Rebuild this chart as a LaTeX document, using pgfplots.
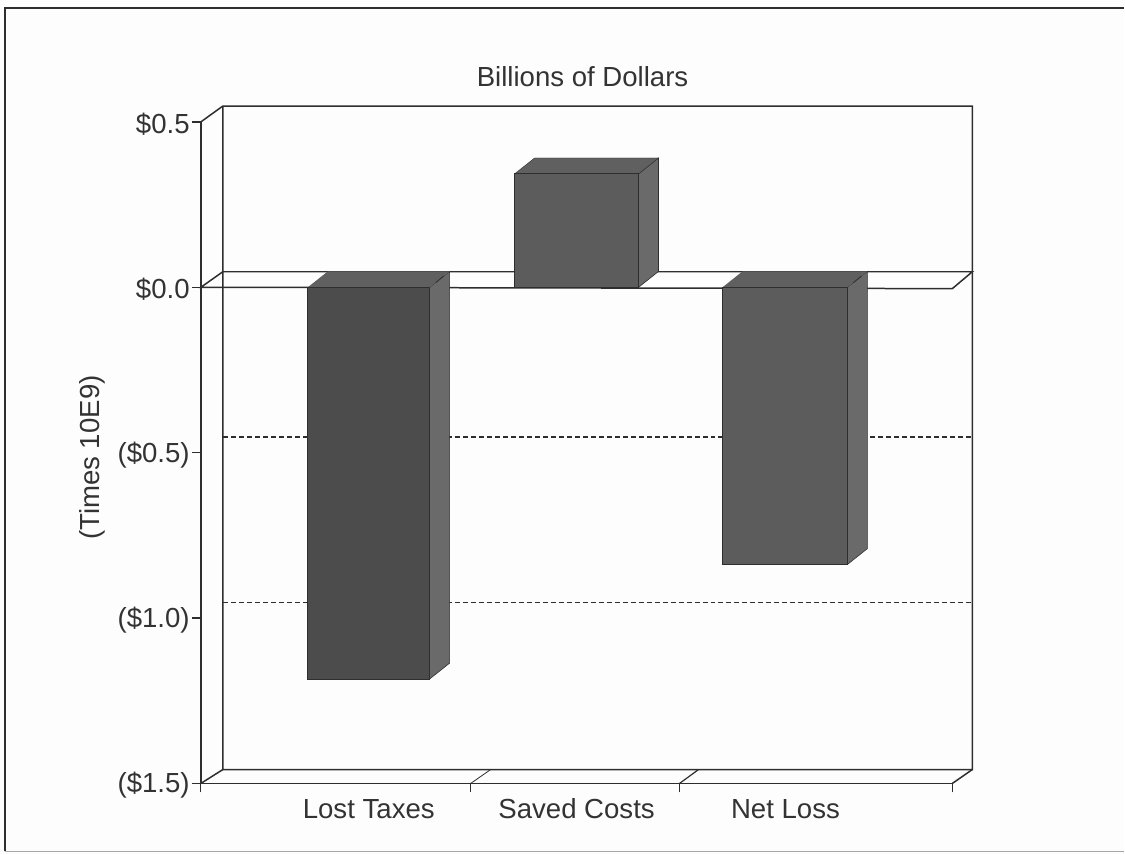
\documentclass[border=0pt]{standalone}
\usepackage{fontspec}
\setmainfont{Liberation Sans}
\usepackage{pgfplots}
\pgfplotsset{compat=1.18}
\definecolor{paper}{HTML}{FDFDFD}
\definecolor{ink}{HTML}{2E2E2E}
\definecolor{txt}{HTML}{333333}
\definecolor{barA}{HTML}{4C4C4C}
\definecolor{barB}{HTML}{5C5C5C}
\definecolor{side}{HTML}{6A6A6A}
\definecolor{topf}{HTML}{606060}
\begin{document}
\begin{tikzpicture}
% page background and scanned frame (1pt = 1 reference pixel, axis corner at 201,784)
\fill[paper] (-201pt,-71pt) rectangle (924pt,784pt);
\draw[ink,line width=1.6pt] (-196pt,-68pt) -- (-196pt,776pt) -- (924pt,776pt);
\draw[gray!70,line width=1.2pt] (-196pt,-68pt) -- (924pt,-68pt);
\begin{axis}[
    at={(0pt,0pt)}, anchor=south west,
    scale only axis,
    width=752pt, height=662pt,
    xmin=201, xmax=953,
    ymin=-1.5, ymax=0.5,
    clip=false,
    axis lines*=left,
    axis line style={ink,line width=1.5pt},
    font=\fontsize{27.6}{30}\selectfont,
    tick align=outside,
    major tick length=9pt,
    minor tick length=9pt,
    xtick={369,577,786},
    xticklabels={Lost Taxes,Saved Costs,Net Loss},
    major x tick style={draw=none},
    minor xtick={201,471,680,953},
    minor x tick style={ink,line width=1.2pt},
    ytick={-1.5,-1,-0.5,0,0.5},
    yticklabels={(\$1.5),(\$1.0),(\$0.5),\$0.0,\$0.5},
    major y tick style={ink,line width=1.3pt},
    x tick label style={text=txt,inner sep=0pt,anchor=base,yshift=-26pt},
    y tick label style={text=txt,inner sep=0pt,xshift=-2pt,yshift=-2pt},
    title={Billions of Dollars},
    title style={at={(axis cs:583,0.62)},anchor=center,text=txt,inner sep=0pt},
    ylabel={(Times 10E9)},
    ylabel style={at={(axis cs:92,-0.515)},anchor=center,text=txt,inner sep=0pt},
]
% back wall and floor
\addplot[ink,line width=1.5pt] coordinates {(201,0.5)(223,0.548)(973,0.548)(973,-1.458)(223,-1.458)(223,0.548)};
\addplot[ink,line width=1.5pt] coordinates {(201,-1.5)(223,-1.458)};
\addplot[ink,line width=1.5pt] coordinates {(953,-1.5)(973,-1.458)};
\addplot[ink,line width=0.8pt] coordinates {(471,-1.5)(491,-1.458)};
\addplot[ink,line width=1.2pt] coordinates {(680,-1.5)(699,-1.458)};
% dashed gridlines on the back wall
\addplot[ink,line width=1.5pt,dash pattern=on 5pt off 3pt] coordinates {(223,-0.453)(973,-0.453)};
\addplot[ink,line width=1.5pt,dash pattern=on 5pt off 3pt] coordinates {(223,-0.953)(973,-0.953)};
% zero plane
\addplot[ink,line width=1.5pt] coordinates {(201,0)(953,-0.004)(973,0.047)(223,0.047)} -- cycle;
% Lost Taxes
\addplot[draw=ink,line width=0.6pt,fill=side] coordinates {(430,0)(450,0.048)(450,-1.136)(430,-1.184)} -- cycle;
\addplot[draw=none,fill=topf] coordinates {(308,0)(328,0.048)(450,0.048)(430,0)} -- cycle;
\addplot[ybar,bar width=122pt,bar shift=0pt,draw=ink,line width=0.8pt,fill=barA] coordinates {(369,-1.184)};
\addplot[ink,line width=0.8pt] coordinates {(436,0.014)(444,0.034)};
% Saved Costs
\addplot[draw=ink,line width=0.6pt,fill=side] coordinates {(639,0)(659,0.048)(659,0.391)(639,0.343)} -- cycle;
\addplot[draw=ink,line width=0.4pt,fill=topf] coordinates {(515,0.343)(535,0.391)(659,0.391)(639,0.343)} -- cycle;
\addplot[ybar,bar width=124pt,bar shift=0pt,draw=ink,line width=0.8pt,fill=barB] coordinates {(577,0.343)};
% Net Loss
\addplot[draw=ink,line width=0.6pt,fill=side] coordinates {(848,0)(868,0.048)(868,-0.79)(848,-0.838)} -- cycle;
\addplot[draw=none,fill=topf] coordinates {(723,0)(743,0.048)(868,0.048)(848,0)} -- cycle;
\addplot[ybar,bar width=125pt,bar shift=0pt,draw=ink,line width=0.8pt,fill=barB] coordinates {(785.5,-0.838)};
\addplot[ink,line width=0.8pt] coordinates {(854,0.014)(862,0.034)};
\end{axis}
\end{tikzpicture}
\end{document}
